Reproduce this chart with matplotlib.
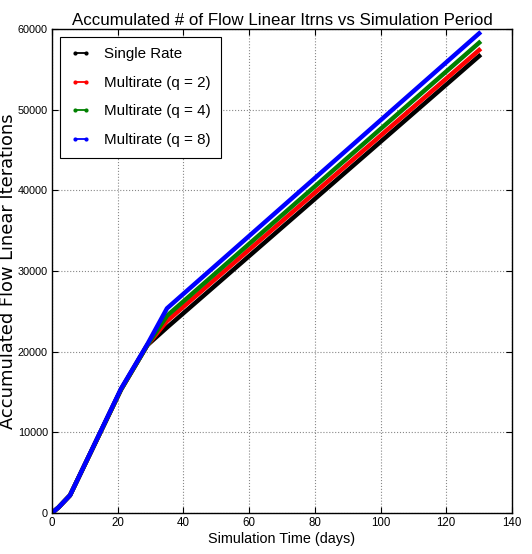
"""Accumulated flow linear iterations vs simulation time."""

import matplotlib
matplotlib.use("Agg")
import matplotlib.pyplot as plt
from matplotlib.lines import Line2D

TIME = [0, 2, 5.5, 21, 29, 35, 130]
SINGLE_RATE = [0, 700, 2200, 15300, 20800, 23000, 56650]
MULTI_Q2 = [0, 700, 2200, 15300, 20800, 23800, 57390]
MULTI_Q4 = [0, 700, 2200, 15300, 20800, 24450, 58300]
MULTI_Q8 = [0, 700, 2200, 15400, 20900, 25370, 59460]

SERIES = [
    ("Single Rate", SINGLE_RATE, "black"),
    ("Multirate (q = 2)", MULTI_Q2, "red"),
    ("Multirate (q = 4)", MULTI_Q4, "green"),
    ("Multirate (q = 8)", MULTI_Q8, "blue"),
]

X_TICKS = [0, 20, 40, 60, 80, 100, 120, 140]
Y_TICKS = [0, 10000, 20000, 30000, 40000, 50000, 60000]

NARROW = ["Liberation Sans", "DejaVu Sans"]


def fit_width(fig, text, target_px, horizontal=True) -> None:
    # no condensed font around, so shrink the text until it spans the same width
    fig.canvas.draw()
    bb = text.get_window_extent()
    size = bb.width if horizontal else bb.height
    text.set_fontsize(text.get_fontsize() * target_px / size)


def main() -> None:
    plt.rcParams["font.family"] = ["DejaVu Sans"]
    fig = plt.figure(figsize=(5.32, 5.54), dpi=100)
    ax = fig.add_axes([0.0977, 0.074, 0.8647, 0.8736])

    for label, values, color in SERIES:
        ax.plot(TIME, values, color=color, linewidth=3.2, label=label)

    ax.set_xlim(0, 140)
    ax.set_ylim(0, 60000)
    ax.set_xticks(X_TICKS)
    ax.set_yticks(Y_TICKS)
    ax.tick_params(direction="in", top=True, right=True, labelsize=8.3, length=4, pad=3)
    ax.tick_params(axis="y", labelsize=7.8)
    for lab in ax.get_xticklabels() + ax.get_yticklabels():
        lab.set_family(NARROW)
    ax.grid(True, color="#888888", linestyle=":", linewidth=0.8)
    for spine in ax.spines.values():
        spine.set_linewidth(1.0)

    title = ax.set_title("Accumulated # of Flow Linear Itrns vs Simulation Period",
                         fontsize=17, family=NARROW, pad=3)
    xlab = ax.set_xlabel("Simulation Time (days)", fontsize=14, family=NARROW, labelpad=2)
    ylab = ax.set_ylabel("Accumulated Flow Linear Iterations", fontsize=13)
    ax.yaxis.set_label_coords(-0.077, 0.5)

    handles = [
        Line2D([0], [0], color=color, linewidth=1.3, marker=".", markersize=4)
        for _, _, color in SERIES
    ]
    labels = [label for label, _, _ in SERIES]
    leg = ax.legend(handles, labels, loc="upper left", numpoints=2,
                    fancybox=False, framealpha=1, edgecolor="black",
                    borderaxespad=0.5, handlelength=1.3, handletextpad=0.9,
                    labelspacing=0.95, borderpad=0.7,
                    prop={"family": NARROW, "size": 11})
    leg.get_frame().set_linewidth(0.8)

    fit_width(fig, title, 420)
    fit_width(fig, xlab, 147)
    fit_width(fig, ylab, 315, horizontal=False)
    fit_width(fig, leg.get_texts()[1], 107)
    for t in leg.get_texts():
        t.set_fontsize(leg.get_texts()[1].get_fontsize())

    fig.savefig("out.png", dpi=100)


if __name__ == "__main__":
    main()
